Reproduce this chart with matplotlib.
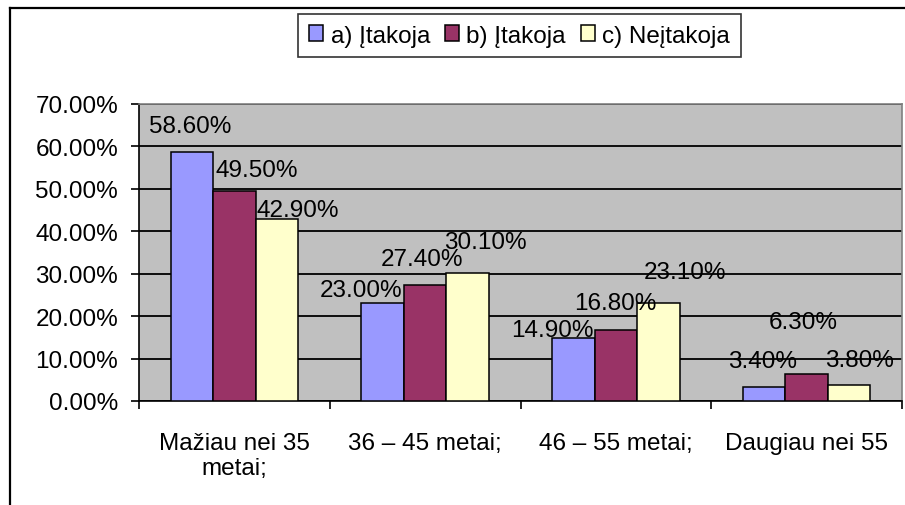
import matplotlib
matplotlib.use("Agg")
import matplotlib.pyplot as plt
from matplotlib.lines import Line2D
from matplotlib.ticker import FixedLocator, FuncFormatter
import numpy as np

plt.rcParams['font.family'] = ['Liberation Sans', 'DejaVu Sans']

categories = ["Mažiau nei 35\nmetai;", "36 – 45 metai;", "46 – 55 metai;", "Daugiau nei 55"]
series_names = ["a) Įtakoja", "b) Įtakoja", "c) Neįtakoja"]
values_a = [0.586, 0.230, 0.149, 0.034]
values_b = [0.495, 0.274, 0.168, 0.063]
values_c = [0.429, 0.301, 0.231, 0.038]
y_ticks = [0.0, 0.1, 0.2, 0.3, 0.4, 0.5, 0.6, 0.7]

colors = ["#9999FF", "#993366", "#FFFFCC"]
# label offsets (pixels) relative to bar top centre, per series
label_dx = [[-2, -22, -21, -1.5], [22, -3, -1, -3.5], [21, 18, 27, 10.5]]
label_dy = [[26, 13, 7.5, 26], [20.5, 26, 27, 52], [8.5, 31, 30.5, 24.5]]

W, H = 905, 506
fig = plt.figure(figsize=(W / 100, H / 100), dpi=100)
fig.patch.set_facecolor("white")

ax = fig.add_axes([139 / W, 1 - 402 / H, (902 - 139) / W, (402 - 105) / H])
ax.set_facecolor("#C0C0C0")

fs = 17.5
x = np.arange(len(categories))
bw = 0.2225
all_vals = [values_a, values_b, values_c]
handles = []
for k, vals in enumerate(all_vals):
    bars = ax.bar(x + (k - 1) * bw, vals, width=bw, color=colors[k],
                  edgecolor="black", linewidth=1.1, zorder=3, label=series_names[k])
    handles.append(bars)
    for i, (b, v) in enumerate(zip(bars, vals)):
        ax.annotate(f"{v * 100:.2f}%",
                    xy=(b.get_x() + b.get_width() / 2, v),
                    xytext=(label_dx[k][i], label_dy[k][i]),
                    textcoords="offset pixels", ha="center", va="center",
                    fontsize=fs, color="black", zorder=5)

ax.set_xlim(-0.5, len(categories) - 0.5)
ax.set_ylim(0, 0.7)
ax.yaxis.set_major_locator(FixedLocator(y_ticks))
ax.yaxis.set_major_formatter(FuncFormatter(lambda v, p: f"{v * 100:.2f}%"))
ax.grid(axis="y", color="black", linewidth=1.3, zorder=1)
ax.set_axisbelow(True)

# category ticks at boundaries, labels at centres
ax.xaxis.set_major_locator(FixedLocator(np.arange(len(categories) + 1) - 0.5))
ax.xaxis.set_major_formatter(FuncFormatter(lambda v, p: ""))
ax.xaxis.set_minor_locator(FixedLocator(x))
ax.set_xticklabels(categories, minor=True, fontsize=fs)
ax.tick_params(axis="x", which="minor", length=0, pad=22)
ax.tick_params(axis="x", which="major", length=6, width=1.2, direction="out", color="black")
ax.tick_params(axis="y", which="major", length=6, width=1.2, direction="out",
               labelsize=fs, pad=9, color="black")
for lab in ax.get_xticklabels(minor=True):
    lab.set_linespacing(1.2)

for side in ["top", "right"]:
    ax.spines[side].set_color("#808080")
    ax.spines[side].set_linewidth(1.2)
for side in ["left", "bottom"]:
    ax.spines[side].set_color("black")
    ax.spines[side].set_linewidth(1.2)

leg = fig.legend(handles=handles, labels=series_names, loc="center",
                 bbox_to_anchor=(519.5 / W, 1 - 36.5 / H), ncol=3, fontsize=fs,
                 frameon=True, fancybox=False, shadow=False, handlelength=0.6,
                 handleheight=0.6, handletextpad=0.3, columnspacing=0.6,
                 borderpad=0.45, borderaxespad=0)
leg.get_frame().set_edgecolor("black")
leg.get_frame().set_linewidth(1.2)

# outer chart border (left and top visible)
fig.add_artist(Line2D([10 / W, 10 / W], [0, 1 - 9 / H], color="black", linewidth=1.6,
                      transform=fig.transFigure))
fig.add_artist(Line2D([10 / W, 1], [1 - 9 / H, 1 - 9 / H], color="black", linewidth=1.6,
                      transform=fig.transFigure))

fig.savefig("out.png", dpi=100)
